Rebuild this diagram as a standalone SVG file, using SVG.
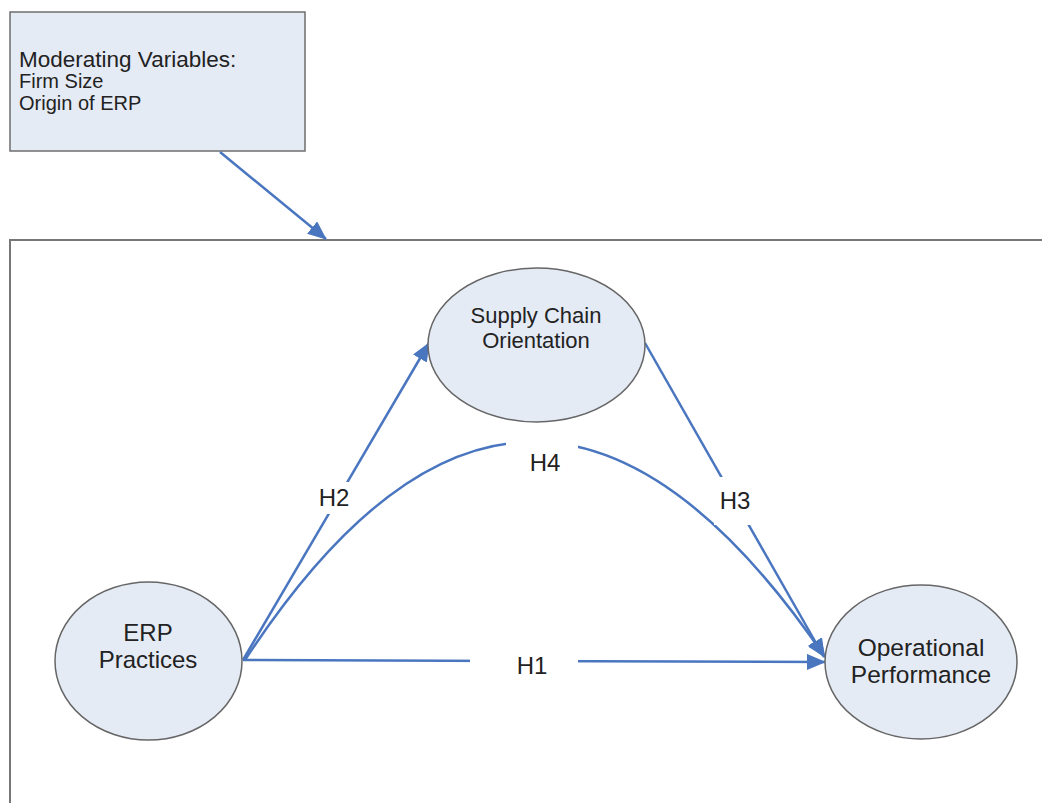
<svg xmlns="http://www.w3.org/2000/svg" width="1042" height="803" viewBox="0 0 1042 803">
<style>
.box{fill:#e5ebf5;stroke:#6e6e6e;stroke-width:1.5}
.node{fill:#e5ebf5;stroke:#666;stroke-width:1.5}
.frame{fill:none;stroke:#777;stroke-width:2}
.t{font-family:"Liberation Sans",Arial,sans-serif;fill:#222}
.c{text-anchor:middle}
.edge{fill:none;stroke:#4a76c0;stroke-width:2.5}
.gap{fill:#fff;stroke:none}
</style>
<defs>
<marker id="ah" markerUnits="userSpaceOnUse" markerWidth="20" markerHeight="16" refX="18" refY="8" orient="auto">
<path d="M0,0 L19,8 L0,16 Z" fill="#4a76c0"/>
</marker>
</defs>
<rect x="0" y="0" width="1042" height="803" fill="#fff"/>
<rect class="frame" x="10" y="240" width="1045" height="580"/>
<g id="moderators">
<rect class="box" x="10" y="12" width="295" height="139"/>
<text class="t" x="19" y="67" font-size="22.5">Moderating Variables:</text>
<text class="t" x="19" y="88" font-size="20">Firm Size</text>
<text class="t" x="19" y="110" font-size="20">Origin of ERP</text>
</g>
<g id="connectors">
<path class="edge" d="M220,152 L326,239" marker-end="url(#ah)"/>
<path class="edge" d="M243,660 L429,343" marker-end="url(#ah)"/>
<path class="edge" d="M245,660 Q530,225 825,657" marker-end="url(#ah)"/>
<path class="edge" d="M645,343 L824,657" marker-end="url(#ah)"/>
<path class="edge" d="M243,660 L825,662" marker-end="url(#ah)"/>
<rect class="gap" x="314" y="482" width="40" height="32"/>
<rect class="gap" x="506" y="436" width="72" height="42"/>
<rect class="gap" x="714" y="477" width="42" height="48"/>
<rect class="gap" x="470" y="652" width="108" height="24"/>
<text class="t c" x="334" y="506" font-size="24">H2</text>
<text class="t c" x="545" y="471" font-size="24">H4</text>
<text class="t c" x="735" y="509" font-size="24">H3</text>
<text class="t c" x="532" y="674" font-size="24">H1</text>
</g>
<g id="erp">
<ellipse class="node" cx="148.5" cy="661" rx="93.5" ry="79"/>
<text class="t c" x="148" y="641" font-size="24">ERP</text>
<text class="t c" x="148" y="668" font-size="24">Practices</text>
</g>
<g id="sco">
<ellipse class="node" cx="536.5" cy="345" rx="108.5" ry="77"/>
<text class="t c" x="536" y="323" font-size="22">Supply Chain</text>
<text class="t c" x="536" y="348" font-size="22">Orientation</text>
</g>
<g id="op">
<ellipse class="node" cx="921" cy="662" rx="96" ry="77"/>
<text class="t c" x="921" y="656" font-size="24.5">Operational</text>
<text class="t c" x="921" y="683" font-size="24.5">Performance</text>
</g>
</svg>
